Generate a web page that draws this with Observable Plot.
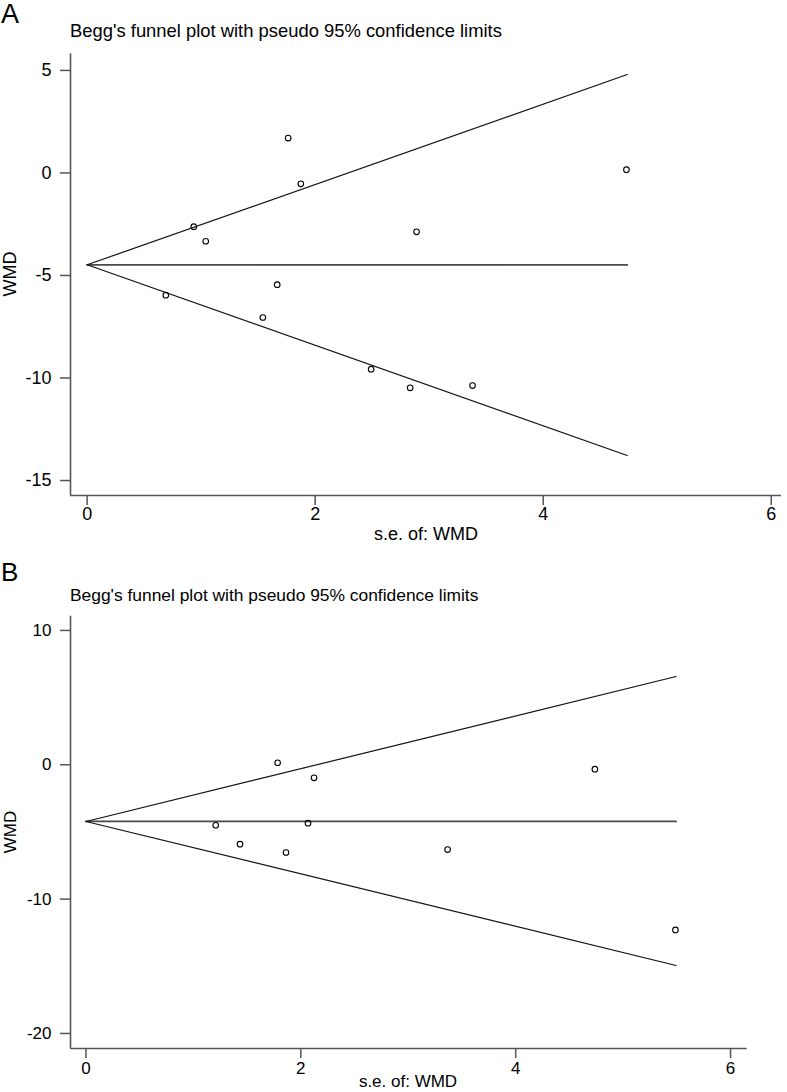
<!DOCTYPE html>
<html><head><meta charset="utf-8">
<script src="https://cdn.jsdelivr.net/npm/d3@7"></script>
<script src="https://cdn.jsdelivr.net/npm/@observablehq/plot@0.6"></script>
<style>
body{margin:0;background:#fff;}
#root{position:relative;width:787px;height:1092px;overflow:hidden;font-family:"Liberation Sans",Arial,Helvetica,sans-serif;color:#000;background:#fff;}
.abs{position:absolute;line-height:1;white-space:nowrap;}
.rot{transform:translate(-50%,-50%) rotate(-90deg);}
.ctr{transform:translateX(-50%);}
</style></head><body><div id="root"></div>
<script>
// ---------- Shared texts ----------
const titleText = "Begg's funnel plot with pseudo 95% confidence limits";
const xLabel = "s.e. of: WMD";
const yLabel = "WMD";

// ---------- Panel A data ----------
const seA  = [0.690, 0.935, 1.040, 1.541, 1.667, 1.763, 1.874, 2.491, 2.833, 2.889, 3.380, 4.730];
const wmdA = [-5.96, -2.62, -3.33, -7.05, -5.45, 1.70, -0.53, -9.57, -10.48, -2.87, -10.37, 0.16];
const funnelSeA    = [0, 4.737];
const funnelUpA    = [-4.48, 4.80];
const funnelLoA    = [-4.48, -13.78];
const funnelMidA   = [-4.48, -4.48];
const xTicksA = [0, 2, 4, 6];
const yTicksA = [-15, -10, -5, 0, 5];

// ---------- Panel B data ----------
const seB  = [1.208, 1.434, 1.784, 1.862, 2.067, 2.123, 3.366, 4.737, 5.487];
const wmdB = [-4.50, -5.91, 0.15, -6.53, -4.35, -0.97, -6.31, -0.33, -12.29];
const funnelSeB    = [0, 5.493];
const funnelUpB    = [-4.22, 6.57];
const funnelLoB    = [-4.22, -14.94];
const funnelMidB   = [-4.22, -4.22];
const xTicksB = [0, 2, 4, 6];
const yTicksB = [-20, -10, 0, 10];

const FONT = '"Liberation Sans", Arial, Helvetica, sans-serif';

function panel(o) {
  const pts = o.se.map((s, i) => ({se: s, wmd: o.wmd[i]}));
  const toPts = arr => o.fSe.map((s, i) => ({se: s, wmd: arr[i]}));
  return Plot.plot({
    width: o.width, height: o.height,
    marginTop: o.mt, marginBottom: o.mb, marginLeft: o.ml, marginRight: o.mr,
    x: {domain: o.xDom}, y: {domain: o.yDom},
    style: {fontFamily: FONT, fontSize: o.fs + "px", color: "#000", background: "#fff", overflow: "visible"},
    marks: [
      Plot.ruleX([o.xDom[0]], {stroke: "#555", strokeWidth: 1.6}),
      Plot.ruleY([o.yDom[0]], {stroke: "#555", strokeWidth: 1.6}),
      Plot.axisX({ticks: o.xTicks, tickSize: 10, tickPadding: o.xpad, stroke: "#555", strokeWidth: 1.5, label: null, tickFormat: d => String(d)}),
      Plot.axisY({ticks: o.yTicks, tickSize: 10, tickPadding: 9, stroke: "#555", strokeWidth: 1.5, label: null, tickFormat: d => String(d)}),
      Plot.line(toPts(o.fMid), {x: "se", y: "wmd", stroke: "#4a4a4a", strokeWidth: 1.8}),
      Plot.line(toPts(o.fUp), {x: "se", y: "wmd", stroke: "#111", strokeWidth: 1.2}),
      Plot.line(toPts(o.fLo), {x: "se", y: "wmd", stroke: "#111", strokeWidth: 1.2}),
      Plot.dot(pts, {x: "se", y: "wmd", r: 2.8, stroke: "#000", strokeWidth: 1.1, fill: "none"})
    ]
  });
}

const root = document.getElementById("root");
function addText(txt, cls, style) {
  const d = document.createElement("div");
  d.className = "abs " + cls;
  d.textContent = txt;
  Object.assign(d.style, style);
  root.appendChild(d);
}
function addSvg(svg, top) {
  const w = document.createElement("div");
  w.className = "abs";
  w.style.left = "0px"; w.style.top = top + "px";
  w.appendChild(svg);
  root.appendChild(w);
}

// Panel A
addSvg(panel({
  se: seA, wmd: wmdA, fSe: funnelSeA, fUp: funnelUpA, fLo: funnelLoA, fMid: funnelMidA,
  xDom: [-0.146, 6.09], yDom: [-15.73, 5.81], xTicks: xTicksA, yTicks: yTicksA,
  width: 787, height: 506, mt: 9.3, mb: 55, ml: 70, mr: 6, fs: 18, xpad: 2
}), 44);
addText("A", "", {left: "1px", top: "1px", fontSize: "27px"});
addText(titleText, "", {left: "70px", top: "21.5px", fontSize: "18.4px"});
addText(xLabel, "ctr", {left: "426px", top: "525px", fontSize: "18px"});
addText(yLabel, "rot", {left: "10px", top: "274px", fontSize: "18px"});

// Panel B
addSvg(panel({
  se: seB, wmd: wmdB, fSe: funnelSeB, fUp: funnelUpB, fLo: funnelLoB, fMid: funnelMidB,
  xDom: [-0.144, 6.155], yDom: [-21.12, 11.06], xTicks: xTicksB, yTicks: yTicksB,
  width: 787, height: 484, mt: 7.7, mb: 44, ml: 70, mr: 40.3, fs: 17, xpad: 3
}), 608);
addText("B", "", {left: "1px", top: "559px", fontSize: "26px"});
addText(titleText, "", {left: "70px", top: "586.5px", fontSize: "17.4px"});
addText(xLabel, "ctr", {left: "408px", top: "1073px", fontSize: "17px"});
addText(yLabel, "rot", {left: "10px", top: "832px", fontSize: "17px"});
</script>
</body></html>
